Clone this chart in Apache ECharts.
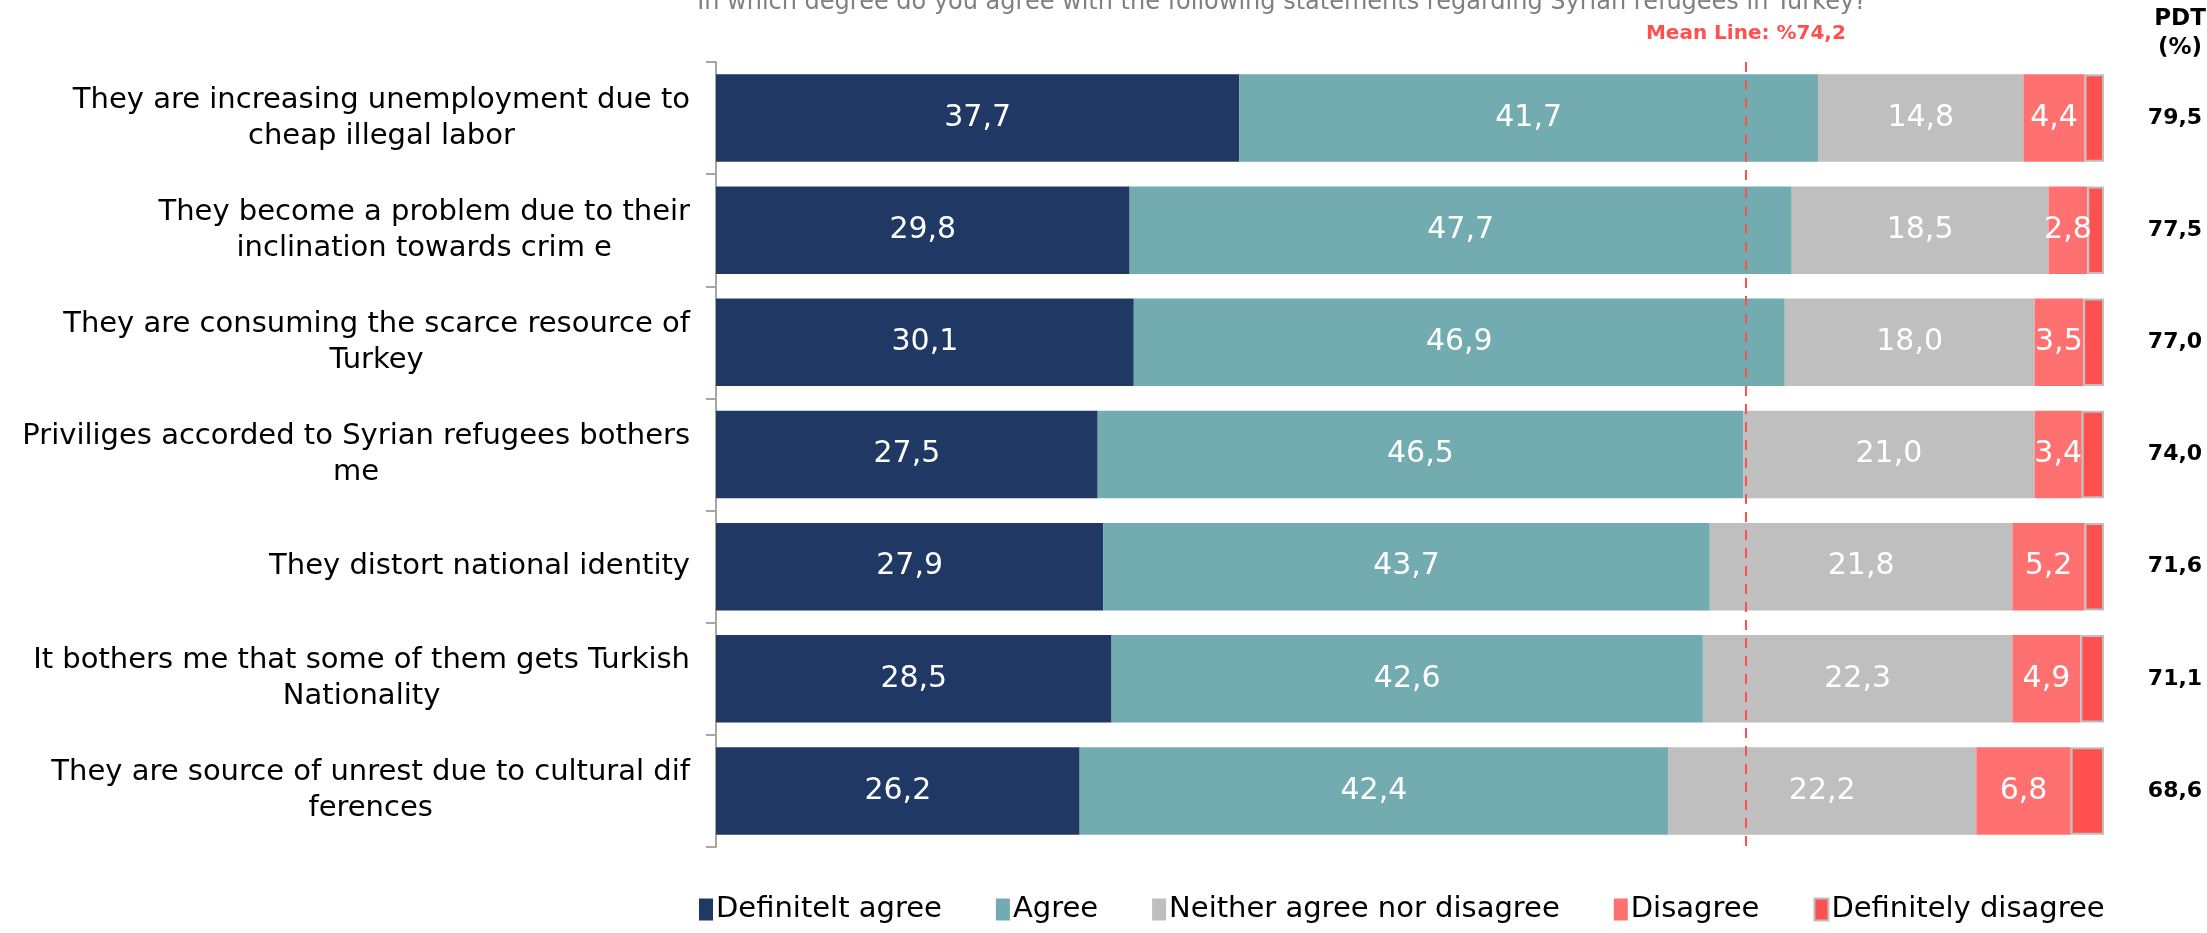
<!DOCTYPE html>
<html>
<head>
<meta charset="utf-8">
<script src="https://cdn.jsdelivr.net/npm/echarts@6/dist/echarts.min.js"></script>
<style>html,body{margin:0;padding:0;background:#fff}#c{width:2207px;height:933px}</style>
</head>
<body>
<div id="c"></div>
<script>
const categories = [
  "They are increasing unemployment due to\ncheap illegal labor",
  "They become a problem due to their\ninclination towards crim e",
  "They are consuming the scarce resource of\nTurkey",
  "Priviliges accorded to Syrian refugees bothers\nme",
  "They distort national identity",
  "It bothers me that some of them gets Turkish\nNationality",
  "They are source of unrest due to cultural dif\nferences"
];
const seriesNames = ["Definitelt agree", "Agree", "Neither agree nor disagree", "Disagree", "Definitely disagree"];
const definitelyAgree = [37.7, 29.8, 30.1, 27.5, 27.9, 28.5, 26.2];
const agree = [41.7, 47.7, 46.9, 46.5, 43.7, 42.6, 42.4];
const neither = [14.8, 18.5, 18.0, 21.0, 21.8, 22.3, 22.2];
const disagree = [4.4, 2.8, 3.5, 3.4, 5.2, 4.9, 6.8];
const definitelyDisagree = [1.4, 1.2, 1.5, 1.6, 1.4, 1.7, 2.4];
const pdt = ["79,5", "77,5", "77,0", "74,0", "71,6", "71,1", "68,6"];
const meanValue = 74.2;
const meanLabel = "Mean Line: %74,2";
const titleText = "In which degree do you agree with the following statements regarding Syrian refugees in Turkey?";
const pdtHeader = "PDT\n(%)";

const colors = ["#203864", "#72ACB1", "#BFBFBF", "#FF7171", "#FF5050"];
const regular = "'DejaVu Sans', Verdana, sans-serif";
const fmt = v => v.toFixed(1).replace('.', ',');

const values = [definitelyAgree, agree, neither, disagree, definitelyDisagree];
const series = values.map((arr, i) => {
  const s = {
    name: seriesNames[i],
    type: 'bar',
    stack: 'total',
    barCategoryGap: '22%',
    data: arr,
    itemStyle: { color: colors[i] },
    label: {
      show: i < 4,
      position: 'inside',
      color: '#fff',
      fontSize: 30,
      fontFamily: regular,
      formatter: p => fmt(p.value)
    },
    emphasis: { disabled: true }
  };
  if (i === 4) {
    s.itemStyle = { color: colors[i], borderColor: '#BFBFBF', borderWidth: 2 };
    s.markLine = {
      silent: true,
      symbol: 'none',
      lineStyle: { color: '#FF5050', type: [10, 8], width: 2 },
      label: {
        show: true,
        position: 'start',
        distance: 18,
        formatter: meanLabel,
        color: '#FF5050',
        fontWeight: 'bold',
        fontSize: 20,
        fontFamily: regular
      },
      data: [{ xAxis: meanValue }]
    };
  }
  return s;
});

const chart = echarts.init(document.getElementById('c'), null, { renderer: 'canvas' });
chart.setOption({
  animation: false,
  color: colors,
  title: [
    {
      text: titleText,
      left: 1277, top: -14, textAlign: 'center',
      textStyle: { color: '#808080', fontSize: 24, fontWeight: 'normal', fontFamily: regular }
    },
    {
      text: pdtHeader,
      left: 2175, top: 0, textAlign: 'center',
      textStyle: { color: '#000', fontSize: 23, fontWeight: 'bold', fontFamily: regular, lineHeight: 29 }
    }
  ],
  legend: {
    bottom: 4,
    left: 694,
    itemWidth: 14,
    itemHeight: 22,
    itemGap: 54,
    icon: 'rect',
    textStyle: { fontSize: 29, fontFamily: regular, color: '#000', padding: [0, 0, 0, -2] },
    data: seriesNames.map((n, i) => i === 4 ? { name: n, itemStyle: { borderColor: '#BFBFBF', borderWidth: 2 } } : n)
  },
  grid: { left: 716, right: 103, top: 62, bottom: 86 },
  xAxis: { type: 'value', min: 0, max: 100, show: false },
  yAxis: [
    {
      type: 'category',
      data: categories,
      inverse: true,
      axisLine: { show: true, lineStyle: { color: '#A6A6A6', width: 2 } },
      axisTick: { show: true, length: 10, lineStyle: { color: '#A6A6A6', width: 2 } },
      axisLabel: {
        margin: 26,
        formatter: v => v.split('\n').map(l => '{c|' + l + '}').join('\n'),
        rich: { c: { align: 'center', fontSize: 29, fontFamily: regular, color: '#000', lineHeight: 36 } }
      }
    },
    {
      type: 'category',
      data: pdt,
      inverse: true,
      position: 'right',
      axisLine: { show: false },
      axisTick: { show: false },
      axisLabel: { margin: 71, align: 'center', fontSize: 22, fontWeight: 'bold', color: '#000', fontFamily: regular }
    }
  ],
  series: series
});
</script>
</body>
</html>
